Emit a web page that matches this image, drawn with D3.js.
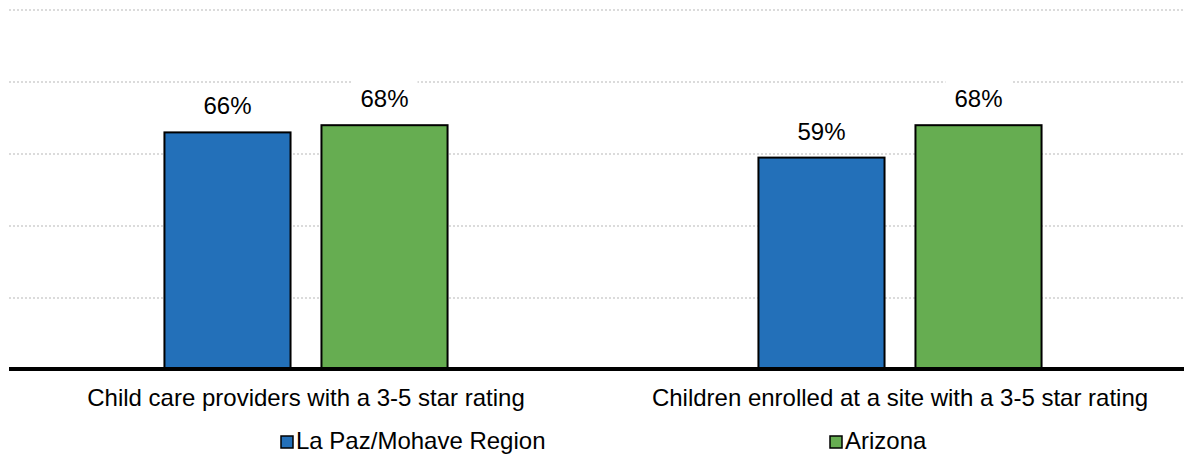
<!DOCTYPE html>
<html>
<head>
<meta charset="utf-8">
<script src="https://cdn.jsdelivr.net/npm/d3@7/dist/d3.min.js"></script>
<style>
  html, body { margin: 0; padding: 0; background: #fff; }
  svg { display: block; font-family: "Liberation Sans", Arial, sans-serif; }
</style>
</head>
<body>
<svg id="chart" width="1184" height="458"></svg>
<script>
const categories = ["Child care providers with a 3-5 star rating", "Children enrolled at a site with a 3-5 star rating"];
const seriesNames = ["La Paz/Mohave Region", "Arizona"];
const laPazValues = [0.66, 0.59];
const arizonaValues = [0.68, 0.68];
const seriesColors = ["#2370B9", "#66AD51"];
const yTicks = [0, 0.2, 0.4, 0.6, 0.8, 1.0];

const svg = d3.select("#chart");
const W = 1184;

const x0 = d3.scaleBand().domain(categories).range([9, 1197]).paddingInner(0).paddingOuter(0);
const x1 = d3.scaleBand().domain(seriesNames).range([0, x0.bandwidth()]).paddingInner(0.197).paddingOuter(0.99);
const y = d3.scaleLinear().domain([0, 1]).range([370, 10]);

const seriesValues = [laPazValues, arizonaValues];

// gridlines
svg.append("g").selectAll("line").data(yTicks.filter(d => d > 0)).join("line")
  .attr("x1", 9).attr("x2", W)
  .attr("y1", d => y(d)).attr("y2", d => y(d))
  .attr("stroke", "#cfcfcf").attr("stroke-width", 1.3)
  .attr("stroke-dasharray", "2,2");

// bars
const data = [];
categories.forEach((c, i) => {
  seriesNames.forEach((s, j) => {
    data.push({cat: c, series: s, value: seriesValues[j][i], color: seriesColors[j]});
  });
});

svg.append("g").selectAll("rect").data(data).join("rect")
  .attr("x", d => x0(d.cat) + x1(d.series))
  .attr("y", d => y(d.value))
  .attr("width", x1.bandwidth())
  .attr("height", d => y(0) - y(d.value))
  .attr("fill", d => d.color)
  .attr("stroke", "#000").attr("stroke-width", 2);

// labels with white background
const lbl = svg.append("g").selectAll("g").data(data).join("g")
  .attr("transform", d => `translate(${x0(d.cat) + x1(d.series) + x1.bandwidth() / 2},${y(d.value) - 18})`);
lbl.append("rect").attr("x", -33).attr("y", -27).attr("width", 66).attr("height", 34).attr("fill", "#fff");
lbl.append("text").attr("text-anchor", "middle").attr("font-size", 24).attr("fill", "#000")
  .text(d => Math.round(d.value * 100) + "%");

// baseline axis
svg.append("line").attr("x1", 9).attr("x2", W).attr("y1", y(0) - 1).attr("y2", y(0) - 1)
  .attr("stroke", "#000").attr("stroke-width", 4);

// category axis labels
const xAxis = d3.axisBottom(x0).tickSize(0).tickPadding(0);
const gx = svg.append("g").attr("transform", `translate(0,${y(0)})`).call(xAxis);
gx.select(".domain").remove();
gx.selectAll("text").attr("font-size", 24).attr("fill", "#000")
  .attr("font-family", "Liberation Sans, Arial, sans-serif")
  .attr("dy", 0).attr("y", 36);

// legend
const legendX = [281, 830];
const leg = svg.append("g").selectAll("g").data(seriesNames).join("g")
  .attr("transform", (d, i) => `translate(${legendX[i]},436)`);
leg.append("rect").attr("width", 12).attr("height", 12)
  .attr("fill", (d, i) => seriesColors[i]).attr("stroke", "#000").attr("stroke-width", 1.5);
leg.append("text").attr("x", 15).attr("y", 13).attr("font-size", 24).attr("fill", "#000").text(d => d);
</script>
</body>
</html>
